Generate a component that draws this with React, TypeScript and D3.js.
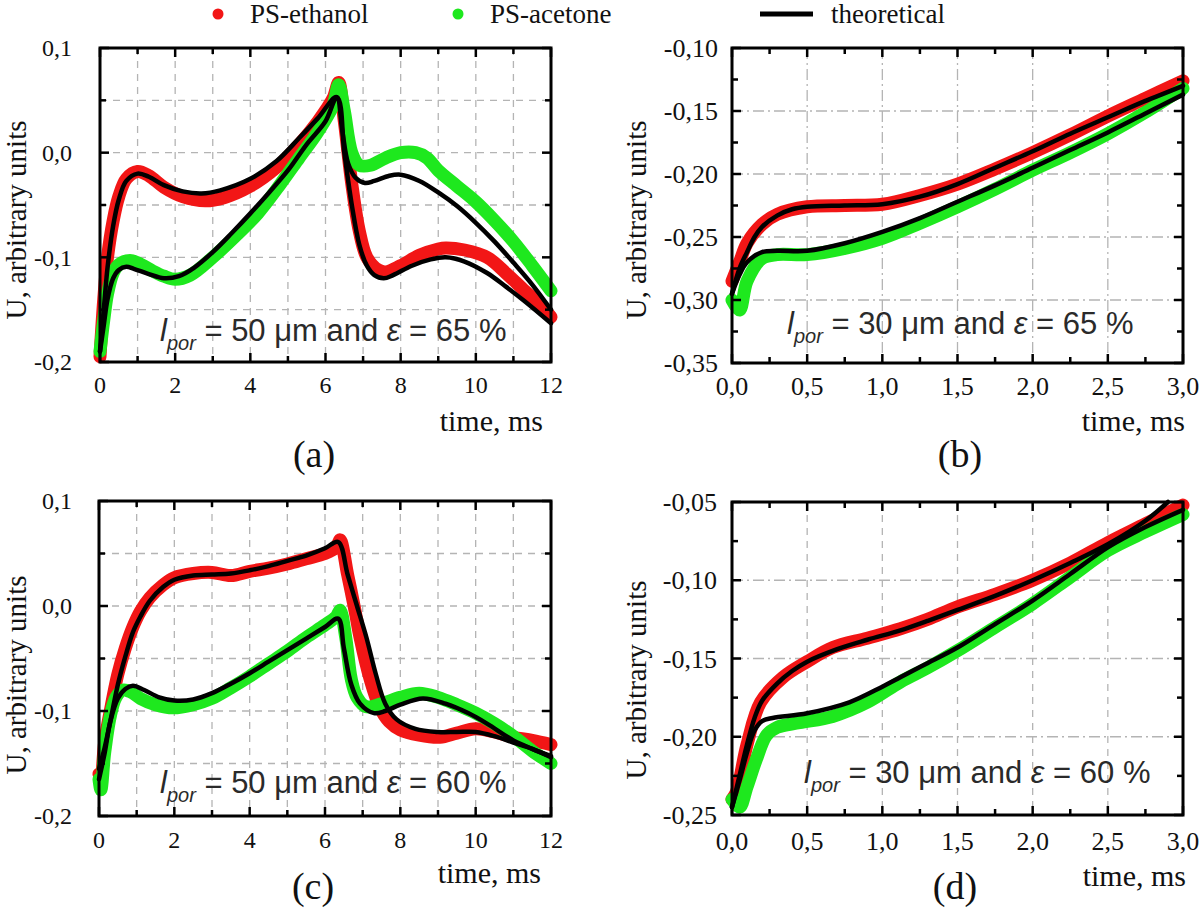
import React from 'react';
import * as d3 from 'd3';

type Pt = [number, number];

// ---------- tick values ----------
const msTicks12 = [0, 2, 4, 6, 8, 10, 12];
const uTicksAC = [-0.2, -0.1, 0.0, 0.1];
const msTicks3 = [0, 0.5, 1.0, 1.5, 2.0, 2.5, 3.0];
const uTicksB = [-0.35, -0.3, -0.25, -0.2, -0.15, -0.1];
const uTicksD = [-0.25, -0.2, -0.15, -0.1, -0.05];

// ---------- legend ----------
const seriesNames = ['PS-ethanol', 'PS-acetone', 'theoretical'];

// ---------- panel (a): l_por = 50 µm, eps = 65 % ----------
const aEthanol: Pt[] = [
  [0, -0.195], [0.1, -0.14], [0.2, -0.1], [0.35, -0.065], [0.5, -0.042], [0.7, -0.025], [1.0, -0.018],
  [1.3, -0.022], [1.7, -0.033], [2.2, -0.042], [2.8, -0.046], [3.3, -0.043], [4.0, -0.032], [4.7, -0.014],
  [5.3, 0.008], [5.8, 0.03], [6.2, 0.052], [6.35, 0.067], [6.5, 0.03], [6.7, -0.03], [6.9, -0.075],
  [7.1, -0.1], [7.4, -0.112], [7.6, -0.114], [8.0, -0.108], [8.5, -0.098], [9.0, -0.092], [9.2, -0.091],
  [9.7, -0.093], [10.3, -0.1], [10.8, -0.115], [11.3, -0.132], [11.7, -0.145], [12.0, -0.157],
];
const aAcetone: Pt[] = [
  [0, -0.19], [0.1, -0.16], [0.2, -0.135], [0.35, -0.115], [0.5, -0.107], [0.8, -0.103], [1.1, -0.107],
  [1.4, -0.113], [1.7, -0.118], [2.0, -0.121], [2.4, -0.117], [3.0, -0.1], [3.6, -0.08], [4.2, -0.058],
  [4.8, -0.03], [5.3, -0.005], [5.8, 0.02], [6.2, 0.045], [6.35, 0.065], [6.5, 0.04], [6.7, 0.0],
  [6.9, -0.012], [7.2, -0.012], [7.6, -0.005], [8.0, 0.0], [8.4, 0.0], [8.7, -0.005], [9.0, -0.017],
  [9.5, -0.032], [10.0, -0.047], [10.5, -0.065], [11.0, -0.085], [11.5, -0.108], [12.0, -0.132],
];
const aTheoryEthanol: Pt[] = [
  [0, -0.19], [0.1, -0.15], [0.2, -0.11], [0.35, -0.07], [0.5, -0.045], [0.7, -0.027], [1.0, -0.02],
  [1.3, -0.023], [1.7, -0.031], [2.2, -0.037], [2.7, -0.039], [3.2, -0.036], [4.0, -0.025], [4.7, -0.008],
  [5.3, 0.014], [5.8, 0.033], [6.3, 0.053], [6.5, 0.0], [6.7, -0.05], [6.9, -0.088], [7.1, -0.108],
  [7.3, -0.117], [7.55, -0.12], [7.8, -0.117], [8.3, -0.108], [8.8, -0.102], [9.2, -0.1], [9.7, -0.104],
  [10.3, -0.115], [10.8, -0.128], [11.3, -0.142], [12.0, -0.163],
];
const aTheoryAcetone: Pt[] = [
  [0, -0.19], [0.1, -0.165], [0.2, -0.14], [0.35, -0.12], [0.5, -0.112], [0.7, -0.109], [0.9, -0.111],
  [1.3, -0.116], [1.7, -0.12], [2.1, -0.118], [2.5, -0.11], [3.0, -0.095], [3.5, -0.077], [4.0, -0.058],
  [4.5, -0.038], [5.0, -0.017], [5.5, 0.008], [6.0, 0.03], [6.3, 0.053], [6.45, 0.02], [6.6, -0.01],
  [6.8, -0.024], [7.05, -0.029], [7.3, -0.027], [7.7, -0.022], [8.0, -0.021], [8.5, -0.027], [9.0, -0.038],
  [9.5, -0.051], [10.0, -0.067], [10.5, -0.085], [11.0, -0.105], [11.5, -0.126], [12.0, -0.15],
];

// ---------- panel (b): l_por = 30 µm, eps = 65 % ----------
const bEthanol: Pt[] = [
  [0, -0.285], [0.05, -0.27], [0.1, -0.255], [0.2, -0.24], [0.3, -0.232], [0.5, -0.226], [0.75, -0.225],
  [1.0, -0.224], [1.25, -0.217], [1.5, -0.208], [1.75, -0.196], [2.0, -0.183], [2.25, -0.169], [2.5, -0.154],
  [2.75, -0.14], [3.0, -0.126],
];
const bAcetone: Pt[] = [
  [0, -0.3], [0.05, -0.308], [0.1, -0.285], [0.2, -0.267], [0.3, -0.264], [0.5, -0.264], [0.75, -0.259],
  [1.0, -0.251], [1.25, -0.239], [1.5, -0.226], [1.75, -0.212], [2.0, -0.197], [2.25, -0.183], [2.5, -0.168],
  [2.75, -0.151], [3.0, -0.132],
];
const bTheoryEthanol: Pt[] = [
  [0, -0.295], [0.05, -0.275], [0.1, -0.262], [0.15, -0.25], [0.2, -0.242], [0.3, -0.233], [0.4, -0.228],
  [0.5, -0.226], [0.75, -0.225], [1.0, -0.224], [1.25, -0.218], [1.5, -0.208], [1.75, -0.195], [2.0, -0.182],
  [2.25, -0.168], [2.5, -0.155], [2.75, -0.142], [3.0, -0.13],
];
const bTheoryAcetone: Pt[] = [
  [0, -0.295], [0.05, -0.28], [0.1, -0.27], [0.2, -0.262], [0.3, -0.261], [0.5, -0.261], [0.75, -0.255],
  [1.0, -0.246], [1.25, -0.235], [1.5, -0.222], [1.75, -0.209], [2.0, -0.195], [2.25, -0.181], [2.5, -0.167],
  [2.75, -0.152], [3.0, -0.137],
];

// ---------- panel (c): l_por = 50 µm, eps = 60 % ----------
const cEthanol: Pt[] = [
  [0, -0.16], [0.05, -0.165], [0.15, -0.13], [0.3, -0.1], [0.5, -0.065], [0.7, -0.04], [0.9, -0.02],
  [1.1, -0.005], [1.35, 0.008], [1.7, 0.02], [2.0, 0.027], [2.5, 0.031], [3.0, 0.032], [3.5, 0.029],
  [4.0, 0.033], [4.5, 0.036], [5.0, 0.04], [5.5, 0.045], [6.0, 0.05], [6.3, 0.056], [6.4, 0.063],
  [6.6, 0.03], [6.8, -0.005], [6.93, -0.03], [7.2, -0.07], [7.46, -0.097], [7.7, -0.11], [8.0, -0.118],
  [8.5, -0.123], [9.05, -0.125], [9.5, -0.121], [10.0, -0.117], [10.5, -0.12], [11.0, -0.125],
  [11.5, -0.128], [12.0, -0.132],
];
const cAcetone: Pt[] = [
  [0, -0.165], [0.05, -0.175], [0.15, -0.14], [0.3, -0.105], [0.45, -0.087], [0.64, -0.08], [0.85, -0.082],
  [1.1, -0.088], [1.5, -0.094], [1.97, -0.097], [2.5, -0.094], [3.0, -0.088], [3.5, -0.078], [4.0, -0.067],
  [4.5, -0.055], [5.0, -0.043], [5.5, -0.03], [6.0, -0.018], [6.3, -0.01], [6.4, -0.004], [6.55, -0.03],
  [6.7, -0.07], [6.85, -0.087], [7.1, -0.096], [7.5, -0.093], [8.0, -0.087], [8.5, -0.083], [9.0, -0.087],
  [9.5, -0.094], [10.0, -0.102], [10.5, -0.112], [11.0, -0.124], [11.5, -0.138], [12.0, -0.15],
];
const cTheoryEthanol: Pt[] = [
  [0, -0.155], [0.15, -0.135], [0.3, -0.11], [0.5, -0.075], [0.7, -0.048], [0.9, -0.025], [1.1, -0.01],
  [1.35, 0.005], [1.7, 0.018], [2.0, 0.025], [2.5, 0.029], [3.0, 0.03], [3.5, 0.031], [4.0, 0.034],
  [4.5, 0.038], [5.0, 0.043], [5.5, 0.048], [6.0, 0.055], [6.35, 0.061], [6.6, 0.03], [6.85, 0.0],
  [7.1, -0.03], [7.35, -0.065], [7.6, -0.093], [7.9, -0.108], [8.4, -0.117], [9.0, -0.12], [9.5, -0.12],
  [10.0, -0.12], [10.5, -0.124], [11.0, -0.13], [11.5, -0.136], [12.0, -0.144],
];
const cTheoryAcetone: Pt[] = [
  [0, -0.165], [0.15, -0.14], [0.3, -0.11], [0.5, -0.088], [0.7, -0.079], [0.9, -0.076], [1.2, -0.08],
  [1.6, -0.087], [2.0, -0.09], [2.5, -0.089], [3.0, -0.083], [3.5, -0.074], [4.0, -0.064], [4.5, -0.053],
  [5.0, -0.042], [5.5, -0.031], [6.0, -0.02], [6.35, -0.012], [6.5, -0.04], [6.7, -0.075], [6.93, -0.093],
  [7.3, -0.102], [7.6, -0.1], [8.0, -0.094], [8.6, -0.088], [9.2, -0.093], [9.8, -0.102], [10.3, -0.112],
  [11.0, -0.128], [11.5, -0.136], [12.0, -0.143],
];

// ---------- panel (d): l_por = 30 µm, eps = 60 % ----------
const dEthanol: Pt[] = [
  [0, -0.24], [0.03, -0.235], [0.1, -0.205], [0.19, -0.178], [0.34, -0.162], [0.5, -0.152], [0.67, -0.143],
  [0.9, -0.137], [1.12, -0.131], [1.3, -0.125], [1.5, -0.117], [1.75, -0.109], [2.0, -0.1], [2.25, -0.089],
  [2.5, -0.076], [2.75, -0.064], [3.0, -0.052],
];
const dAcetone: Pt[] = [
  [0, -0.24], [0.05, -0.245], [0.1, -0.232], [0.16, -0.215], [0.23, -0.199], [0.3, -0.194], [0.45, -0.191],
  [0.67, -0.187], [0.9, -0.178], [1.12, -0.165], [1.3, -0.156], [1.5, -0.145], [1.75, -0.13], [2.0, -0.115],
  [2.25, -0.098], [2.5, -0.081], [2.75, -0.069], [3.0, -0.058],
];
const dTheoryEthanol: Pt[] = [
  [0, -0.245], [0.05, -0.225], [0.1, -0.205], [0.15, -0.188], [0.2, -0.177], [0.3, -0.166], [0.4, -0.158],
  [0.5, -0.152], [0.7, -0.144], [0.9, -0.138], [1.12, -0.132], [1.3, -0.126], [1.5, -0.119], [1.75, -0.11],
  [2.0, -0.1], [2.25, -0.089], [2.5, -0.077], [2.75, -0.062], [2.9, -0.05],
];
const dTheoryAcetone: Pt[] = [
  [0, -0.245], [0.05, -0.228], [0.1, -0.21], [0.15, -0.196], [0.2, -0.19], [0.27, -0.188], [0.5, -0.185],
  [0.78, -0.178], [1.0, -0.168], [1.12, -0.162], [1.3, -0.153], [1.5, -0.143], [1.75, -0.128], [2.0, -0.113],
  [2.25, -0.096], [2.5, -0.079], [2.75, -0.066], [3.0, -0.055],
];

// ---------- formatting ----------
const loc = d3.formatLocale({ decimal: ',', thousands: ' ', grouping: [3], currency: ['', ''], minus: '-' });
const fmtInt = loc.format('d');
const fmt1 = loc.format('.1f');
const fmt2 = loc.format('.2f');

const RED = '#f21616';
const GREEN = '#1ee81e';
const SERIF = '"Liberation Serif", "Times New Roman", serif';
const SANS = '"Liberation Sans", Arial, sans-serif';

interface Spec {
  left: number; right: number; top: number; bottom: number;
  xDomain: [number, number]; yDomain: [number, number];
  xTicks: number[]; yTicks: number[]; xMinorStep: number; yMinorStep: number;
  xFmt: (v: number) => string; yFmt: (v: number) => string;
  tickFont: number;
  gridAll: boolean; gridXDash: string; gridYDash: string;
  ethanol: Pt[]; acetone: Pt[]; thEthanol: Pt[]; thAcetone: Pt[];
  por: string; eps: string; annX: number; annY: number;
  label: string; labelX: number; labelY: number;
  xTickBase: number; xTitleBase: number; xTitleEnd: number;
  yTitleX: number; yTitleCY: number; yLabelRight: number;
}

const Panel: React.FC<{ s: Spec }> = ({ s }) => {
  const x = d3.scaleLinear().domain(s.xDomain).range([s.left, s.right]);
  const y = d3.scaleLinear().domain(s.yDomain).range([s.bottom, s.top]);
  const eps = 1e-9;
  const xMinor = d3.range(s.xDomain[0], s.xDomain[1] + eps, s.xMinorStep).map(v => +v.toFixed(6));
  const yMinor = d3.range(s.yDomain[0], s.yDomain[1] + eps, s.yMinorStep).map(v => +v.toFixed(6));
  const isMajor = (arr: number[], v: number) => arr.some(a => Math.abs(a - v) < 1e-6);
  const inner = (v: number, d: [number, number]) => v > d[0] + 1e-6 && v < d[1] - 1e-6;
  const gx = (s.gridAll ? xMinor : s.xTicks).filter(v => inner(v, s.xDomain));
  const gy = (s.gridAll ? yMinor : s.yTicks).filter(v => inner(v, s.yDomain));
  const line = d3.line<Pt>().x(d => x(d[0])).y(d => y(d[1])).curve(d3.curveCatmullRom.alpha(0.5));
  const majLen = 9, minLen = 6;

  return (
    <g>
      {gx.map((v, i) => (
        <line key={'gx' + i} x1={x(v)} x2={x(v)} y1={s.top} y2={s.bottom} stroke="#b4b4b4" strokeWidth={1.3} strokeDasharray={s.gridXDash} />
      ))}
      {gy.map((v, i) => (
        <line key={'gy' + i} x1={s.left} x2={s.right} y1={y(v)} y2={y(v)} stroke="#b4b4b4" strokeWidth={1.3} strokeDasharray={s.gridYDash} />
      ))}
      <path d={line(s.ethanol) || ''} fill="none" stroke={RED} strokeWidth={13} strokeLinecap="round" strokeLinejoin="round" />
      <path d={line(s.acetone) || ''} fill="none" stroke={GREEN} strokeWidth={13} strokeLinecap="round" strokeLinejoin="round" />
      <path d={line(s.thEthanol) || ''} fill="none" stroke="#000" strokeWidth={4.5} strokeLinecap="round" strokeLinejoin="round" />
      <path d={line(s.thAcetone) || ''} fill="none" stroke="#000" strokeWidth={4.5} strokeLinecap="round" strokeLinejoin="round" />
      {/* ticks */}
      {xMinor.map((v, i) => {
        const L = isMajor(s.xTicks, v) ? majLen : minLen;
        return (
          <g key={'tx' + i}>
            <line x1={x(v)} x2={x(v)} y1={s.bottom} y2={s.bottom - L} stroke="#000" strokeWidth={2.5} />
            <line x1={x(v)} x2={x(v)} y1={s.top} y2={s.top + L} stroke="#000" strokeWidth={2.5} />
          </g>
        );
      })}
      {yMinor.map((v, i) => {
        const L = isMajor(s.yTicks, v) ? majLen : minLen;
        return (
          <g key={'ty' + i}>
            <line x1={s.left} x2={s.left + L} y1={y(v)} y2={y(v)} stroke="#000" strokeWidth={2.5} />
            <line x1={s.right} x2={s.right - L} y1={y(v)} y2={y(v)} stroke="#000" strokeWidth={2.5} />
          </g>
        );
      })}
      <rect x={s.left} y={s.top} width={s.right - s.left} height={s.bottom - s.top} fill="none" stroke="#000" strokeWidth={3} />
      {/* tick labels */}
      {s.xTicks.map((v, i) => (
        <text key={'lx' + i} x={x(v)} y={s.xTickBase} textAnchor="middle" fontFamily={SERIF} fontSize={s.tickFont} fill="#111">{s.xFmt(v)}</text>
      ))}
      {s.yTicks.map((v, i) => (
        <text key={'ly' + i} x={s.yLabelRight} y={y(v)} dy="0.35em" textAnchor="end" fontFamily={SERIF} fontSize={s.tickFont} fill="#111">{s.yFmt(v)}</text>
      ))}
      <text x={s.xTitleEnd} y={s.xTitleBase} textAnchor="end" fontFamily={SERIF} fontSize={30} fill="#111">time, ms</text>
      <text transform={`translate(${s.yTitleX},${s.yTitleCY}) rotate(-90)`} textAnchor="middle" fontFamily={SERIF} fontSize={29} fill="#111">U, arbitrary units</text>
      <text x={s.labelX} y={s.labelY} textAnchor="middle" fontFamily={SERIF} fontSize={38} fill="#111">{s.label}</text>
      <text x={s.annX} y={s.annY} fontFamily={SANS} fontSize={31} fill="#2a2a2a">
        <tspan fontStyle="italic">l</tspan>
        <tspan fontStyle="italic" fontSize={20} dy={9}>por</tspan>
        <tspan dy={-9}>{` = ${s.por} μm and `}</tspan>
        <tspan fontStyle="italic">ε</tspan>
        <tspan>{` = ${s.eps} %`}</tspan>
      </text>
    </g>
  );
};

const specs: Spec[] = [
  {
    left: 100, right: 551, top: 48, bottom: 362, xDomain: [0, 12], yDomain: [-0.2, 0.1],
    xTicks: msTicks12, yTicks: uTicksAC, xMinorStep: 1, yMinorStep: 0.05,
    xFmt: fmtInt, yFmt: fmt1, tickFont: 24, gridAll: true, gridXDash: '7,6', gridYDash: '7,6',
    ethanol: aEthanol, acetone: aAcetone, thEthanol: aTheoryEthanol, thAcetone: aTheoryAcetone,
    por: '50', eps: '65', annX: 160, annY: 341,
    label: '(a)', labelX: 314, labelY: 467, xTickBase: 393, xTitleBase: 431, xTitleEnd: 543,
    yTitleX: 26, yTitleCY: 220, yLabelRight: 72,
  },
  {
    left: 732, right: 1183, top: 48, bottom: 363, xDomain: [0, 3], yDomain: [-0.35, -0.1],
    xTicks: msTicks3, yTicks: uTicksB, xMinorStep: 0.25, yMinorStep: 0.025,
    xFmt: fmt1, yFmt: fmt2, tickFont: 26, gridAll: false, gridXDash: '11,4,2,4', gridYDash: '11,4,2,4',
    ethanol: bEthanol, acetone: bAcetone, thEthanol: bTheoryEthanol, thAcetone: bTheoryAcetone,
    por: '30', eps: '65', annX: 787, annY: 334,
    label: '(b)', labelX: 960, labelY: 467, xTickBase: 395, xTitleBase: 431, xTitleEnd: 1185,
    yTitleX: 646, yTitleCY: 220, yLabelRight: 718,
  },
  {
    left: 99, right: 551, top: 501, bottom: 816, xDomain: [0, 12], yDomain: [-0.2, 0.1],
    xTicks: msTicks12, yTicks: uTicksAC, xMinorStep: 1, yMinorStep: 0.05,
    xFmt: fmtInt, yFmt: fmt1, tickFont: 24, gridAll: true, gridXDash: '7,6', gridYDash: '7,6',
    ethanol: cEthanol, acetone: cAcetone, thEthanol: cTheoryEthanol, thAcetone: cTheoryAcetone,
    por: '50', eps: '60', annX: 160, annY: 793,
    label: '(c)', labelX: 313, labelY: 899, xTickBase: 848, xTitleBase: 883, xTitleEnd: 541,
    yTitleX: 26, yTitleCY: 675, yLabelRight: 72,
  },
  {
    left: 732, right: 1183, top: 502, bottom: 815, xDomain: [0, 3], yDomain: [-0.25, -0.05],
    xTicks: msTicks3, yTicks: uTicksD, xMinorStep: 0.25, yMinorStep: 0.025,
    xFmt: fmt1, yFmt: fmt2, tickFont: 26, gridAll: false, gridXDash: '7,6', gridYDash: '11,4,2,4',
    ethanol: dEthanol, acetone: dAcetone, thEthanol: dTheoryEthanol, thAcetone: dTheoryAcetone,
    por: '30', eps: '60', annX: 804, annY: 783,
    label: '(d)', labelX: 955, labelY: 899, xTickBase: 850, xTitleBase: 886, xTitleEnd: 1186,
    yTitleX: 646, yTitleCY: 680, yLabelRight: 717,
  },
];

export default function App() {
  return (
    <svg width={1200} height={910} style={{ position: 'absolute', left: 0, top: 0, background: '#fff' }}>
      <rect x={0} y={0} width={1200} height={910} fill="#fff" />
      {/* legend */}
      <circle cx={218} cy={14} r={5.5} fill={RED} />
      <text x={250} y={23} fontFamily={SERIF} fontSize={27} fill="#111">{seriesNames[0]}</text>
      <circle cx={458} cy={14} r={5.5} fill={GREEN} />
      <text x={490} y={23} fontFamily={SERIF} fontSize={27} fill="#111">{seriesNames[1]}</text>
      <line x1={760} x2={813} y1={14} y2={14} stroke="#000" strokeWidth={5} />
      <text x={831} y={23} fontFamily={SERIF} fontSize={27} fill="#111">{seriesNames[2]}</text>
      {specs.map((s, i) => <Panel key={i} s={s} />)}
    </svg>
  );
}
